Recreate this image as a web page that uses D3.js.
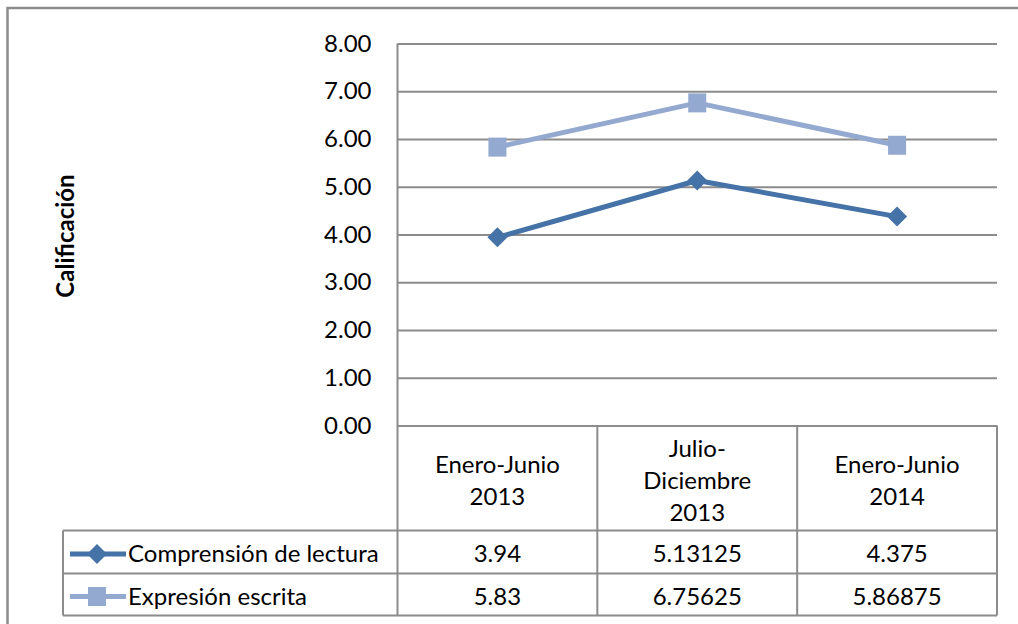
<!DOCTYPE html>
<html>
<head>
<meta charset="utf-8">
<script src="https://cdn.jsdelivr.net/npm/d3@7"></script>
<style>
  body { margin: 0; background: #fff; }
  svg { display: block; font-family: Lato, "Liberation Sans", sans-serif; }
</style>
</head>
<body>
<svg id="chart" width="1018" height="624"></svg>
<script>
let periods = [["Enero-Junio", "2013"], ["Julio-", "Diciembre", "2013"], ["Enero-Junio", "2014"]]
let comprension = [3.94, 5.13125, 4.375]
let expresion = [5.83, 6.75625, 5.86875]
let comprensionLabels = ["3.94", "5.13125", "4.375"]
let expresionLabels = ["5.83", "6.75625", "5.86875"]
let yTicks = [0, 1, 2, 3, 4, 5, 6, 7, 8]

let series = [
  { name: "Comprensión de lectura", values: comprension, labels: comprensionLabels, color: "#4572a7", marker: "diamond" },
  { name: "Expresión escrita", values: expresion, labels: expresionLabels, color: "#93a9cf", marker: "square" }
]

let svg = d3.select("#chart")
let grey = "#8c8c8c"
let fs = 24

let plotLeft = 397.5, plotRight = 997, plotTop = 43.5, zeroY = 425.5
let rowTop = [425.5, 530.5, 573.5], tableBottom = 615.5, legendLeft = 63

let x = d3.scaleBand().domain(d3.range(periods.length)).range([plotLeft, plotRight])
let y = d3.scaleLinear().domain([0, 8]).range([zeroY, plotTop])

// outer frame
svg.append("rect").attr("x", 7.5).attr("y", 8).attr("width", 1030).attr("height", 640)
  .attr("fill", "none").attr("stroke", grey).attr("stroke-width", 2.5)

// gridlines + y labels
let yAxis = svg.append("g").attr("transform", `translate(${plotLeft},0)`)
  .call(d3.axisLeft(y).tickValues(yTicks).tickFormat(d3.format(".2f")).tickSize(-(plotRight - plotLeft)).tickPadding(26))
yAxis.select(".domain").remove()
yAxis.selectAll(".tick line").attr("stroke", grey).attr("stroke-width", 2)
yAxis.selectAll(".tick text").attr("font-size", fs).attr("fill", "#000").attr("font-family", "Lato, sans-serif")

svg.append("text").attr("transform", "translate(74,236) rotate(-90)")
  .attr("text-anchor", "middle").attr("font-size", 24).attr("font-weight", "bold").text("Calificación")

// table lines
let tbl = svg.append("g").attr("stroke", grey).attr("stroke-width", 2).attr("fill", "none")
tbl.append("line").attr("x1", plotLeft).attr("x2", plotLeft).attr("y1", plotTop).attr("y2", tableBottom)
d3.range(1, periods.length + 1).forEach(i => {
  let xx = i === periods.length ? plotRight : x(i)
  tbl.append("line").attr("x1", xx).attr("x2", xx).attr("y1", zeroY).attr("y2", tableBottom)
})
tbl.append("line").attr("x1", legendLeft).attr("x2", legendLeft).attr("y1", rowTop[1]).attr("y2", tableBottom)
rowTop.slice(1).concat([tableBottom]).forEach(yy => {
  tbl.append("line").attr("x1", legendLeft).attr("x2", plotRight).attr("y1", yy).attr("y2", yy)
})

// category headers
periods.forEach((p, i) => {
  let cx = x(i) + x.bandwidth() / 2
  let lh = 32
  let midY = (rowTop[0] + rowTop[1]) / 2 + 3
  let t = svg.append("text").attr("text-anchor", "middle").attr("font-size", fs)
  p.forEach((s, j) => {
    t.append("tspan").attr("x", cx).attr("y", midY + (j - (p.length - 1) / 2) * lh + 8).text(s)
  })
})

// data rows
series.forEach((s, r) => {
  let cy = (rowTop[r + 1] + (r === 0 ? rowTop[2] : tableBottom)) / 2 + 2
  s.labels.forEach((lab, i) => {
    svg.append("text").attr("x", x(i) + x.bandwidth() / 2).attr("y", cy + 8)
      .attr("text-anchor", "middle").attr("font-size", fs).text(lab)
  })
  // legend key
  svg.append("line").attr("x1", 70).attr("x2", 126).attr("y1", cy).attr("y2", cy)
    .attr("stroke", s.color).attr("stroke-width", 5)
  drawMarker(svg, s, 97, cy)
  svg.append("text").attr("x", 128).attr("y", cy + 8).attr("font-size", fs).text(s.name)
})

function drawMarker (g, s, cx, cy) {
  if (s.marker === "diamond") {
    let r = 10
    g.append("path").attr("d", `M${cx},${cy - r}L${cx + r},${cy}L${cx},${cy + r}L${cx - r},${cy}Z`)
      .attr("fill", s.color)
  } else {
    g.append("rect").attr("x", cx - 9).attr("y", cy - 9.5).attr("width", 18).attr("height", 19)
      .attr("fill", s.color)
  }
}

// lines
let line = d3.line().x((d, i) => x(i) + x.bandwidth() / 2).y(d => y(d))
series.slice().reverse().forEach(s => {
  svg.append("path").datum(s.values).attr("d", line).attr("fill", "none")
    .attr("stroke", s.color).attr("stroke-width", 5).attr("stroke-linejoin", "round")
  s.values.forEach((v, i) => drawMarker(svg, s, x(i) + x.bandwidth() / 2, y(v)))
})
</script>
</body>
</html>
